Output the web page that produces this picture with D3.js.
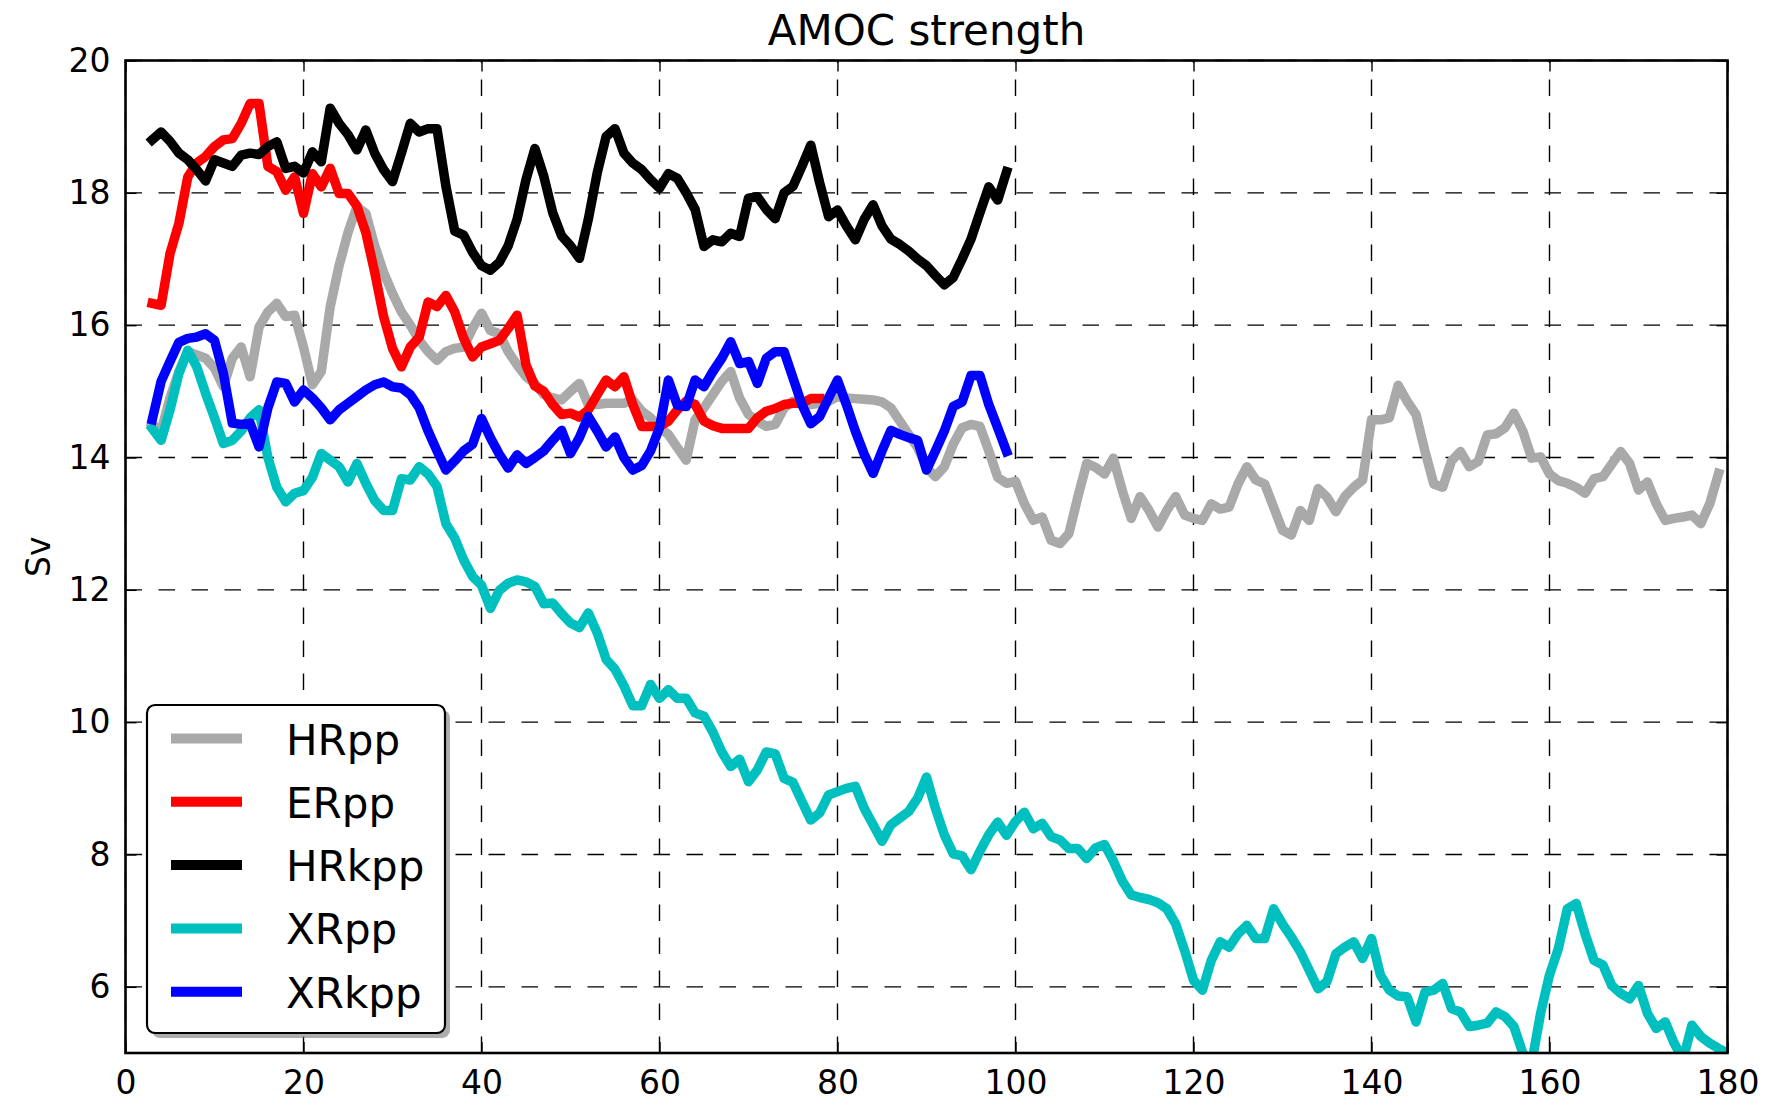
<!DOCTYPE html>
<html>
<head>
<meta charset="utf-8">
<script src="https://cdn.jsdelivr.net/npm/d3@7"></script>
<style>
body{margin:0;background:#fff;}
text{font-family:"DejaVu Sans",sans-serif;}
</style>
</head>
<body>
<div id="chart"></div>
<script>
var width=1774,height=1103,
    margin={left:125.5,top:60.5,right:46.5,bottom:50};

// data (years)
var xTicks=[0,20,40,60,80,100,120,140,160,180];
var yTicks=[6,8,10,12,14,16,18,20];
var names=["HRpp","ERpp","HRkpp","XRpp","XRkpp"];
var colors=["#a9a9a9","#ff0000","#000000","#00bfbf","#0000ff"];

var hrppYears=d3.range(3,180);
var hrpp=[14.5,14.4,14.9,15.3,15.6,15.55,15.5,15.35,15.07,15.5,15.67,15.22,15.97,16.2,16.33,16.13,16.15,15.67,15.1,15.3,
  16.28,16.9,17.4,17.79,17.69,17.2,16.8,16.48,16.2,16.0,15.77,15.6,15.47,15.6,15.65,15.67,15.95,16.18,15.92,15.87,
  15.6,15.4,15.22,15.12,14.95,14.9,14.87,15.0,15.12,14.8,14.8,14.82,14.82,14.82,14.87,14.7,14.6,14.45,14.35,14.15,
  13.96,14.57,14.75,14.95,15.15,15.3,14.9,14.65,14.55,14.47,14.5,14.75,14.85,14.8,14.8,14.82,14.85,14.92,14.9,14.89,
  14.88,14.87,14.84,14.75,14.55,14.35,14.15,13.85,13.71,13.86,14.2,14.45,14.5,14.47,14.1,13.7,13.61,13.64,13.3,13.05,
  13.1,12.75,12.7,12.85,13.4,13.91,13.85,13.75,13.99,13.5,13.08,13.41,13.2,12.95,13.2,13.41,13.13,13.08,13.05,13.3,
  13.22,13.25,13.6,13.86,13.66,13.6,13.25,12.9,12.83,13.2,13.05,13.53,13.4,13.18,13.41,13.55,13.66,14.57,14.57,14.6,
  15.09,14.85,14.65,14.1,13.6,13.55,13.95,14.09,13.86,13.94,14.34,14.36,14.45,14.67,14.4,13.99,14.01,13.75,13.65,13.61,
  13.55,13.46,13.68,13.71,13.9,14.09,13.91,13.51,13.63,13.3,13.05,13.08,13.1,13.13,13.0,13.3,13.76];

var erppYears=d3.range(3,79);
var erpp=[16.33,16.3,17.08,17.54,18.24,18.45,18.55,18.7,18.8,18.82,19.05,19.35,19.35,18.4,18.32,18.04,18.24,17.69,18.29,18.09,
  18.37,17.99,17.99,17.8,17.4,16.8,16.13,15.65,15.37,15.67,15.82,16.35,16.28,16.45,16.2,15.8,15.52,15.67,15.72,15.77,
  15.95,16.15,15.4,15.08,15.0,14.8,14.65,14.67,14.61,14.72,14.95,15.17,15.07,15.22,14.8,14.47,14.47,14.47,14.55,14.72,
  14.85,14.8,14.55,14.48,14.44,14.44,14.44,14.44,14.6,14.7,14.74,14.8,14.82,14.82,14.89,14.89];

var hrkppYears=d3.range(3,100);
var hrkpp=[18.8,18.92,18.78,18.6,18.5,18.35,18.18,18.5,18.45,18.4,18.57,18.6,18.58,18.7,18.77,18.37,18.4,18.3,18.62,18.47,
  19.28,19.05,18.88,18.65,18.95,18.6,18.35,18.17,18.6,19.05,18.92,18.97,18.97,18.1,17.42,17.36,17.1,16.9,16.83,16.95,
  17.2,17.6,18.2,18.67,18.25,17.7,17.35,17.2,17.01,17.6,18.3,18.85,18.97,18.6,18.45,18.35,18.2,18.07,18.29,18.22,
  18.0,17.75,17.19,17.29,17.26,17.39,17.34,17.92,17.94,17.75,17.61,18.0,18.1,18.4,18.72,18.15,17.64,17.74,17.5,17.29,
  17.6,17.82,17.5,17.3,17.22,17.12,17.0,16.9,16.75,16.61,16.72,17.0,17.3,17.7,18.09,17.89,18.32];

var xrppYears=d3.range(3,181);
var xrpp=[14.44,14.26,14.72,15.27,15.62,15.37,14.97,14.6,14.21,14.26,14.4,14.6,14.72,14.0,13.55,13.33,13.46,13.5,13.7,14.06,
  13.96,13.86,13.63,13.91,13.61,13.35,13.2,13.2,13.68,13.66,13.86,13.75,13.56,13.0,12.78,12.45,12.2,12.07,11.72,11.99,
  12.1,12.15,12.12,12.05,11.79,11.8,11.64,11.5,11.43,11.65,11.35,10.95,10.8,10.55,10.25,10.25,10.57,10.36,10.49,10.36,
  10.36,10.14,10.09,9.85,9.55,9.33,9.44,9.1,9.28,9.55,9.52,9.15,9.09,8.8,8.52,8.63,8.9,8.95,9.0,9.03,
  8.7,8.45,8.2,8.45,8.55,8.65,8.85,9.17,8.7,8.3,8.01,7.98,7.77,8.05,8.3,8.49,8.29,8.5,8.64,8.39,
  8.47,8.27,8.22,8.09,8.09,7.94,8.1,8.15,7.9,7.6,7.39,7.35,7.32,7.27,7.18,6.95,6.55,6.1,5.95,6.4,
  6.68,6.6,6.8,6.93,6.73,6.73,7.18,6.95,6.75,6.53,6.25,5.97,6.08,6.5,6.6,6.68,6.43,6.73,6.18,5.95,
  5.86,5.85,5.47,5.92,5.95,6.05,5.67,5.62,5.4,5.42,5.45,5.62,5.55,5.4,5.0,4.85,5.6,6.18,6.58,7.18,
  7.26,6.8,6.4,6.33,6.02,5.9,5.82,6.02,5.6,5.37,5.47,5.15,4.9,5.42,5.25,5.15,5.07,5.0];

var xrkppYears=d3.range(3,100);
var xrkpp=[14.57,15.15,15.45,15.74,15.8,15.82,15.87,15.77,15.27,14.52,14.5,14.52,14.16,14.75,15.14,15.12,14.84,15.02,14.9,14.75,
  14.57,14.72,14.82,14.92,15.02,15.1,15.14,15.07,15.05,14.95,14.75,14.4,14.1,13.81,13.95,14.1,14.2,14.59,14.3,14.05,
  13.84,14.04,13.91,14.0,14.1,14.26,14.41,14.06,14.3,14.62,14.4,14.16,14.31,14.0,13.81,13.88,14.1,14.45,15.17,14.79,
  14.77,15.17,15.07,15.3,15.5,15.75,15.42,15.45,15.12,15.5,15.6,15.6,15.2,14.8,14.51,14.62,14.9,15.17,14.8,14.4,
  14.05,13.76,14.1,14.41,14.35,14.3,14.26,13.81,14.1,14.4,14.77,14.84,15.24,15.24,14.8,14.45,14.09];

var seriesX=[hrppYears,erppYears,hrkppYears,xrppYears,xrkppYears];
var seriesY=[hrpp,erpp,hrkpp,xrpp,xrkpp];

var svg=d3.select('#chart')
    .append('svg')
    .attr('width',width)
    .attr('height',height);

var w=width-margin.left-margin.right,
    h=height-margin.top-margin.bottom;

var x=d3.scaleLinear().domain([0,180]).range([margin.left,margin.left+w]);
var y=d3.scaleLinear().domain([5,20]).range([margin.top+h,margin.top]);

// grid
var grid=svg.append('g')
    .attr('stroke','#000')
    .attr('stroke-width',1.4)
    .attr('stroke-dasharray','16.5,16.5');
grid.selectAll('.gx').data(xTicks).enter().append('line')
    .attr('x1',d=>x(d)).attr('x2',d=>x(d))
    .attr('y1',margin.top+h).attr('y2',margin.top);
grid.selectAll('.gy').data(yTicks).enter().append('line')
    .attr('x1',margin.left).attr('x2',margin.left+w)
    .attr('y1',d=>y(d)).attr('y2',d=>y(d));

svg.append('clipPath').attr('id','clip')
    .append('rect')
    .attr('x',margin.left).attr('y',margin.top)
    .attr('width',w).attr('height',h);

// lines
var line=d3.line().x(d=>x(d[0])).y(d=>y(d[1]));
var lines=svg.append('g').attr('clip-path','url(#clip)');
names.forEach(function(n,i){
    var pts=seriesX[i].map((v,j)=>[v,seriesY[i][j]]);
    lines.append('path')
        .datum(pts)
        .attr('d',line)
        .attr('fill','none')
        .attr('stroke',colors[i])
        .attr('stroke-width',9.5)
        .attr('stroke-linejoin','round')
        .attr('stroke-linecap','square');
});

// axes, ticks inward
var fs=33;
var xAxis=d3.axisBottom(x).tickValues(xTicks).tickSizeInner(-11).tickSizeOuter(0).tickPadding(18);
var yAxis=d3.axisLeft(y).tickValues(yTicks).tickSizeInner(-11).tickSizeOuter(0).tickPadding(15);
var gx=svg.append('g').attr('transform','translate(0,'+(margin.top+h)+')').call(xAxis);
var gy=svg.append('g').attr('transform','translate('+margin.left+',0)').call(yAxis);
svg.append('g').attr('transform','translate(0,'+margin.top+')')
    .call(d3.axisTop(x).tickValues(xTicks).tickSizeInner(-11).tickSizeOuter(0).tickFormat(''));
svg.append('g').attr('transform','translate('+(margin.left+w)+',0)')
    .call(d3.axisRight(y).tickValues(yTicks).tickSizeInner(-11).tickSizeOuter(0).tickFormat(''));
svg.selectAll('.domain').remove();
svg.selectAll('.tick line').attr('stroke','#000').attr('stroke-width',1.4);
[gx,gy].forEach(g=>g.selectAll('text')
    .attr('font-family','"DejaVu Sans",sans-serif')
    .attr('font-size',fs).attr('fill','#000'));

svg.append('rect')
    .attr('x',margin.left).attr('y',margin.top)
    .attr('width',w).attr('height',h)
    .attr('fill','none').attr('stroke','#000').attr('stroke-width',2.6);

// title and label
svg.append('text')
    .attr('x',margin.left+w/2).attr('y',45)
    .attr('text-anchor','middle')
    .attr('font-size',42)
    .text('AMOC strength');
svg.append('text')
    .attr('transform','translate(50,'+(margin.top+h/2)+') rotate(-90)')
    .attr('text-anchor','middle')
    .attr('font-size',fs)
    .text('Sv');

// legend
var lg={x:147,y:705,w:298,h:328,row:63.3};
svg.append('rect')
    .attr('x',lg.x+5).attr('y',lg.y+5).attr('width',lg.w).attr('height',lg.h)
    .attr('rx',8).attr('fill','#777').attr('opacity',0.6);
svg.append('rect')
    .attr('x',lg.x).attr('y',lg.y).attr('width',lg.w).attr('height',lg.h)
    .attr('rx',8).attr('fill','#fff').attr('stroke','#000').attr('stroke-width',2.2);
var items=svg.append('g').selectAll('g').data(names).enter().append('g')
    .attr('transform',(d,i)=>'translate(0,'+(lg.y+33.5+i*lg.row)+')');
items.append('line')
    .attr('x1',171).attr('x2',242).attr('y1',0).attr('y2',0)
    .attr('stroke',(d,i)=>colors[i]).attr('stroke-width',10);
items.append('text')
    .attr('x',286).attr('y',16)
    .attr('font-size',42)
    .text(d=>d);
</script>
</body>
</html>
